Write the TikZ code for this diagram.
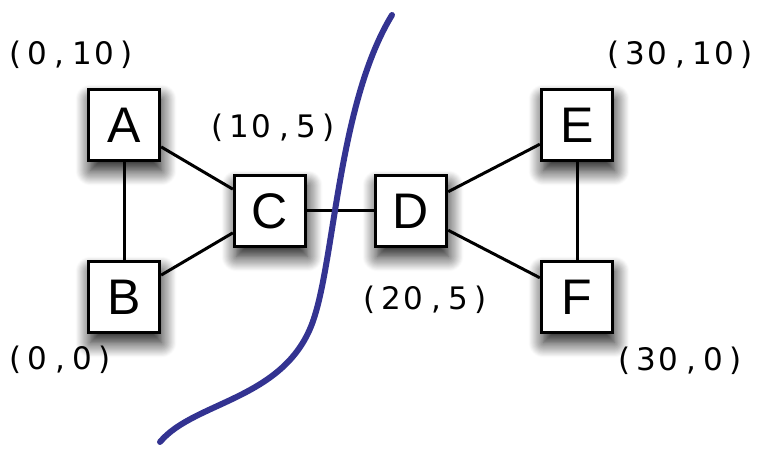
\documentclass[tikz,border=0pt]{standalone}
\usepackage{fontspec}
\setmainfont{Liberation Sans}
\newfontfamily\labfont{DejaVu Sans}
\usetikzlibrary{shadows.blur}
\definecolor{cutblue}{HTML}{333391}
\makeatletter
\def\monotext#1{\mono@loop#1\relax}
\def\mono@loop#1{\ifx#1\relax\else\makebox[22.3pt]{#1}\expandafter\mono@loop\fi}
\makeatother
\tikzset{
  nodebox/.style={draw=black, line width=3.3pt, fill=white, minimum size=71pt, inner sep=0pt,
    font=\fontsize{50}{50}\selectfont,
    blur shadow={shadow xshift=2pt, shadow yshift=-10pt, shadow blur radius=15pt, shadow opacity=95, shadow blur steps=20}},
  coordlab/.style={inner sep=0pt},
  link/.style={line width=3pt, draw=black},
  cut/.style={line width=6pt, draw=cutblue, line cap=round}
}
\newcommand\lab[1]{{\labfont\fontsize{31}{34}\selectfont\monotext{#1}}}
\begin{document}
\begin{tikzpicture}[x=1pt,y=-1pt]
\useasboundingbox (0,0) rectangle (762,454);
\node[nodebox] (A) at (124,125) {A};
\node[nodebox] (B) at (124,297) {B};
\node[nodebox] (C) at (270,211) {C};
\node[nodebox] (D) at (411,211) {D};
\node[nodebox] (E) at (577,125) {E};
\node[nodebox] (F) at (577,297) {F};
\draw[link] (A) -- (B);
\draw[link] (A) -- (C);
\draw[link] (B) -- (C);
\draw[link] (C) -- (D);
\draw[link] (D) -- (E);
\draw[link] (D) -- (F);
\draw[link] (E) -- (F);
\node[coordlab] (lA) at (71,55) {\lab{(0,10)}};
\node[coordlab] (lB) at (60,360) {\lab{(0,0)}};
\node[coordlab] (lC) at (273,128) {\lab{(10,5)}};
\node[coordlab] (lD) at (425,300) {\lab{(20,5)}};
\node[coordlab] (lE) at (680,55) {\lab{(30,10)}};
\node[coordlab] (lF) at (680,361) {\lab{(30,0)}};
\coordinate (cutS) at (160,442);
\coordinate (cutM) at (315,315);
\coordinate (cutN) at (392,15);
\draw[cut] (cutS) .. controls (195,400) and (290,400) .. (cutM) .. controls (335,250) and (340,100) .. (cutN);
\end{tikzpicture}
\end{document}
